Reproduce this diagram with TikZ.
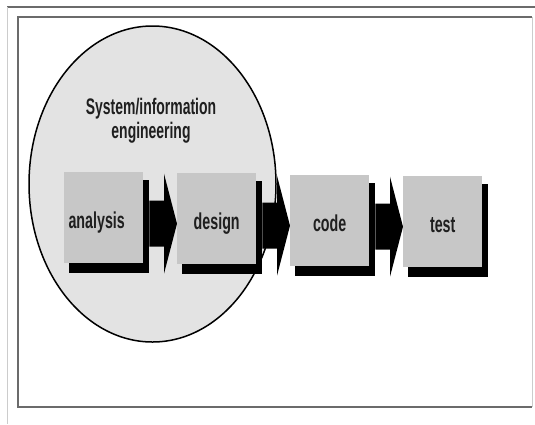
\documentclass[tikz,border=0pt]{standalone}
\usepackage{fontspec}
\setmainfont{Liberation Sans}
\newfontfamily\narrowsans[FakeStretch=0.62]{Liberation Sans Bold}
\usetikzlibrary{calc}

\pgfdeclarelayer{oval}
\pgfdeclarelayer{under}
\pgfsetlayers{oval,under,main}

\definecolor{boxgray}{gray}{0.78}
\definecolor{ovalgray}{gray}{0.89}
\definecolor{framedark}{gray}{0.42}
\definecolor{framelight}{gray}{0.80}
\definecolor{inkgray}{gray}{0.12}

\tikzset{
  stage/.style={fill=boxgray, minimum width=79pt, minimum height=91pt,
    inner sep=0pt, anchor=north west, text=inkgray,
    font=\narrowsans\fontsize{23}{24}\selectfont,
    text height=25pt, text depth=4pt},
  shadowfill/.style={fill=black},
  blockfill/.style={fill=black},
  heading/.style={inner sep=0pt, align=center, text=inkgray,
    font=\narrowsans\fontsize{22.5}{24}\selectfont}
}

% drop shadow behind a stage box
\newcommand\stageshadow[1]{%
  \fill[shadowfill] ($(#1.north west)+(5,8)$) rectangle ($(#1.south east)+(6,10)$);}

% thick block arrow from the shadow edge of #1 to the left side of #2
\newcommand\blockarrow[2]{%
  \fill[blockfill] let \p1=($(#1.east)+(6,0)$), \p2=($(#2.west)+(0,5)$) in
    (\x1,\y2+23pt) -- (\x2-13pt,\y2+23pt) -- (\x2-13pt,\y2+50pt) -- (\x2,\y2)
    -- (\x2-13pt,\y2-50pt) -- (\x2-13pt,\y2-23pt) -- (\x1,\y2-23pt) -- cycle;}

\begin{document}
\begin{tikzpicture}[x=1pt, y=-1pt]
  \useasboundingbox (0,0) rectangle (535,424);

  \begin{pgfonlayer}{oval}
    \fill[white] (0,0) rectangle (535,424);
    % page frames
    \draw[framedark, line width=1.5pt] (7,7) -- (535,7);
    \draw[framelight, line width=1pt] (7,7) -- (7,424);
    \draw[framedark, line width=1.5pt] (532,17) -- (18,17) -- (18,407) -- (532,407);
    \draw[framelight, line width=1pt] (532,17) -- (532,407);
    % system/information engineering scope
    \draw[fill=ovalgray, line width=1.5pt] (152.5,184) ellipse [x radius=123.5pt, y radius=158pt];
  \end{pgfonlayer}

  \node[heading, anchor=north] (sie) at (151,97.5) {System/information\\engineering};

  % process stages
  \node[stage] (analysis) at (64,172) {analysis\hspace*{14pt}};
  \node[stage] (design)   at (177,173) {design};
  \node[stage] (code)     at (290,175) {code};
  \node[stage] (test)     at (403,176) {test};

  \begin{pgfonlayer}{under}
    % arrows between stages
    \blockarrow{analysis}{design}
    \blockarrow{design}{code}
    \blockarrow{code}{test}
    % drop shadows
    \stageshadow{analysis}
    \stageshadow{design}
    \stageshadow{code}
    \stageshadow{test}
  \end{pgfonlayer}
\end{tikzpicture}
\end{document}
